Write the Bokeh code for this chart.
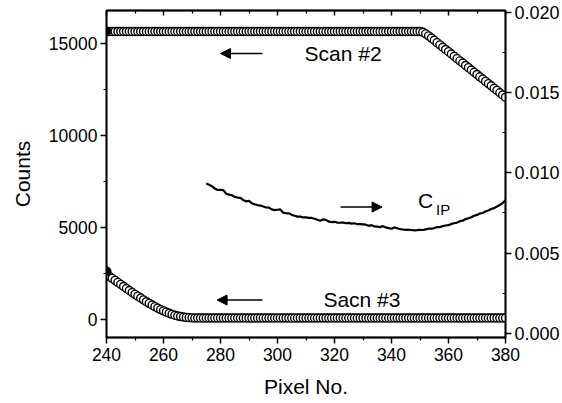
from bokeh.plotting import figure
from bokeh.models import (Range1d, LinearAxis, Label, Arrow, NormalHead,
                          FixedTicker, NumeralTickFormatter)
from bokeh.embed import file_html
from bokeh.resources import INLINE

# ---------------- data ----------------
pixel = list(range(240, 381))

scan2 = [
    15660, 15660, 15660, 15660, 15660, 15660, 15660, 15660, 15660, 15660,  # 240-249
    15660, 15660, 15660, 15660, 15660, 15660, 15660, 15660, 15660, 15660,  # 250-259
    15660, 15660, 15660, 15660, 15660, 15660, 15660, 15660, 15660, 15660,  # 260-269
    15660, 15660, 15660, 15660, 15660, 15660, 15660, 15660, 15660, 15660,  # 270-279
    15660, 15660, 15660, 15660, 15660, 15660, 15660, 15660, 15660, 15660,  # 280-289
    15660, 15660, 15660, 15660, 15660, 15660, 15660, 15660, 15660, 15660,  # 290-299
    15660, 15660, 15660, 15660, 15660, 15660, 15660, 15660, 15660, 15660,  # 300-309
    15660, 15660, 15660, 15660, 15660, 15660, 15660, 15660, 15660, 15660,  # 310-319
    15660, 15660, 15660, 15660, 15660, 15660, 15660, 15660, 15660, 15660,  # 320-329
    15660, 15660, 15660, 15660, 15660, 15660, 15660, 15660, 15660, 15660,  # 330-339
    15660, 15660, 15660, 15660, 15660, 15660, 15660, 15660, 15660, 15660,  # 340-349
    15660, 15620, 15530, 15420, 15300, 15180, 15050, 14930, 14800, 14680,  # 350-359
    14560, 14430, 14310, 14180, 14060, 13940, 13810, 13690, 13560, 13440,  # 360-369
    13320, 13190, 13070, 12940, 12820, 12700, 12570, 12450, 12320, 12200,  # 370-379
    12080,                                                                 # 380
]

scan3 = [
    2600, 2330, 2220, 2110, 2000, 1890, 1780, 1670, 1560, 1450,  # 240-249
    1350, 1250, 1150, 1050, 950, 860, 770, 680, 600, 520,        # 250-259
    450, 380, 320, 260, 210, 170, 140, 115, 95, 80,              # 260-269
    70, 60, 60, 60, 60, 60, 60, 60, 60, 60,                      # 270-279
    60, 60, 60, 60, 60, 60, 60, 60, 60, 60,                      # 280-289
    60, 60, 60, 60, 60, 60, 60, 60, 60, 60,                      # 290-299
    60, 60, 60, 60, 60, 60, 60, 60, 60, 60,                      # 300-309
    60, 60, 60, 60, 60, 60, 60, 60, 60, 60,                      # 310-319
    60, 60, 60, 60, 60, 60, 60, 60, 60, 60,                      # 320-329
    60, 60, 60, 60, 60, 60, 60, 60, 60, 60,                      # 330-339
    60, 60, 60, 60, 60, 60, 60, 60, 60, 60,                      # 340-349
    60, 60, 60, 60, 60, 60, 60, 60, 60, 60,                      # 350-359
    60, 60, 60, 60, 60, 60, 60, 60, 60, 60,                      # 360-369
    60, 60, 60, 60, 60, 60, 60, 60, 60, 60,                      # 370-379
    60,                                                          # 380
]

cip_pixel = list(range(275, 381))
cip = [
    0.00933, 0.00925, 0.00917, 0.00902, 0.00893,                                   # 275-279
    0.00894, 0.00892, 0.00870, 0.00864, 0.00860, 0.00850, 0.00846, 0.00844, 0.00830, 0.00822,  # 280-289
    0.00825, 0.00810, 0.00804, 0.00799, 0.00796, 0.00790, 0.00784, 0.00783, 0.00772, 0.00768,  # 290-299
    0.00770, 0.00772, 0.00752, 0.00748, 0.00748, 0.00738, 0.00733, 0.00727, 0.00728, 0.00722,  # 300-309
    0.00722, 0.00720, 0.00719, 0.00714, 0.00708, 0.00702, 0.00710, 0.00707, 0.00696, 0.00693,  # 310-319
    0.00695, 0.00690, 0.00689, 0.00691, 0.00686, 0.00688, 0.00684, 0.00686, 0.00680, 0.00681,  # 320-329
    0.00679, 0.00677, 0.00670, 0.00674, 0.00666, 0.00665, 0.00662, 0.00668, 0.00660, 0.00656,  # 330-339
    0.00652, 0.00660, 0.00655, 0.00649, 0.00647, 0.00645, 0.00646, 0.00644, 0.00642, 0.00643,  # 340-349
    0.00645, 0.00644, 0.00648, 0.00652, 0.00652, 0.00656, 0.00662, 0.00662, 0.00668, 0.00672,  # 350-359
    0.00674, 0.00682, 0.00686, 0.00690, 0.00699, 0.00702, 0.00712, 0.00717, 0.00723, 0.00733,  # 360-369
    0.00738, 0.00747, 0.00750, 0.00760, 0.00765, 0.00775, 0.00780, 0.00790, 0.00800, 0.00812,  # 370-379
    0.00829,                                                                          # 380
]

x_ticks = [240, 260, 280, 300, 320, 340, 360, 380]
x_minor = [250, 270, 290, 310, 330, 350, 370]
left_ticks = [0, 5000, 10000, 15000]
left_minor = [2500, 7500, 12500]
right_ticks = [0.000, 0.005, 0.010, 0.015, 0.020]
right_minor = [0.0025, 0.0075, 0.0125, 0.0175]

FONT = "Liberation Sans"

# ---------------- figure ----------------
p = figure(width=562, height=403, output_backend="svg", toolbar_location=None,
           x_range=Range1d(240, 380), y_range=Range1d(-1000, 16800),
           min_border_left=106, min_border_right=56, min_border_top=10,
           min_border_bottom=66)
p.extra_y_ranges = {"cip": Range1d(-0.00025, 0.0201)}
p.grid.visible = False
p.outline_line_color = "black"
p.outline_line_width = 1.5
p.background_fill_color = "white"
p.border_fill_color = "white"

def style_axis(ax):
    ax.axis_line_color = "black"
    ax.axis_line_width = 1.8
    ax.major_tick_line_color = "black"
    ax.major_tick_line_width = 1.5
    ax.minor_tick_line_color = "black"
    ax.minor_tick_line_width = 1.2
    ax.major_label_text_font = FONT
    ax.major_label_text_font_size = "17.5px"
    ax.major_label_text_color = "black"
    ax.axis_label_text_font = FONT
    ax.axis_label_text_font_size = "21px"
    ax.axis_label_text_font_style = "normal"
    ax.axis_label_text_color = "black"

xa = p.xaxis[0]
xa.ticker = FixedTicker(ticks=x_ticks, minor_ticks=x_minor)
style_axis(xa)
xa.major_tick_out = 6
xa.major_tick_in = 0
xa.minor_tick_out = 3
xa.minor_tick_in = 0
xa.major_label_standoff = 4
xa.axis_label = "Pixel No."
xa.axis_label_standoff = 11

ya = p.yaxis[0]
ya.ticker = FixedTicker(ticks=left_ticks, minor_ticks=left_minor)
style_axis(ya)
ya.major_tick_out = 6
ya.major_tick_in = 0
ya.minor_tick_out = 3
ya.minor_tick_in = 0
ya.major_label_standoff = 3
ya.axis_label = "Counts"
ya.axis_label_standoff = 12

ra = LinearAxis(y_range_name="cip",
                ticker=FixedTicker(ticks=right_ticks, minor_ticks=right_minor),
                formatter=NumeralTickFormatter(format="0.000"))
style_axis(ra)
ra.major_label_text_font_size = "18px"
ra.major_tick_out = 6
ra.major_tick_in = 0
ra.minor_tick_out = 0
ra.minor_tick_in = 3
ra.major_label_standoff = 3
p.add_layout(ra, "right")

ta = LinearAxis(ticker=FixedTicker(ticks=x_ticks, minor_ticks=x_minor))
style_axis(ta)
ta.major_tick_out = 0
ta.major_tick_in = 5
ta.minor_tick_out = 0
ta.minor_tick_in = 3
ta.major_label_text_font_size = "1px"
ta.major_label_text_color = None
ta.major_label_standoff = 0
p.add_layout(ta, "above")

# ---------------- glyphs ----------------
p.line(cip_pixel, cip, y_range_name="cip", line_color="black", line_width=2.2)

p.scatter(pixel, scan2, marker="circle", size=8, fill_color="white",
          line_color="black", line_width=1.4)
p.scatter(pixel, scan3, marker="circle", size=8, fill_color="white",
          line_color="black", line_width=1.4)
p.scatter([pixel[0]], [scan2[0]], marker="circle", size=9, fill_color="black",
          line_color="black")
p.scatter([pixel[0]], [scan3[0]], marker="circle", size=9, fill_color="black",
          line_color="black")

# ---------------- annotations ----------------
def arrow(x0, x1, y, rng="default"):
    a = Arrow(end=NormalHead(size=10, fill_color="black", line_color="black",
                             line_width=1),
              x_start=x0, y_start=y, x_end=x1, y_end=y,
              line_color="black", line_width=1.6, y_range_name=rng)
    p.add_layout(a)

arrow(294.7, 280.0, 14460)
arrow(294.7, 278.8, 1040)
arrow(322.1, 336.7, 0.00787, "cip")

def label(x, y, text, size="21px", rng="default"):
    p.add_layout(Label(x=x, y=y, text=text, y_range_name=rng,
                       text_font=FONT, text_font_size=size,
                       text_baseline="middle", text_align="left",
                       text_color="black"))

label(309.5, 14460, "Scan #2")
label(316.1, 1090, "Sacn #3")
label(349.3, 0.00829, "C", size="21px", rng="cip")
label(355.6, 0.00772, "IP", size="15px", rng="cip")

open("out.html", "w").write(file_html(p, INLINE))
